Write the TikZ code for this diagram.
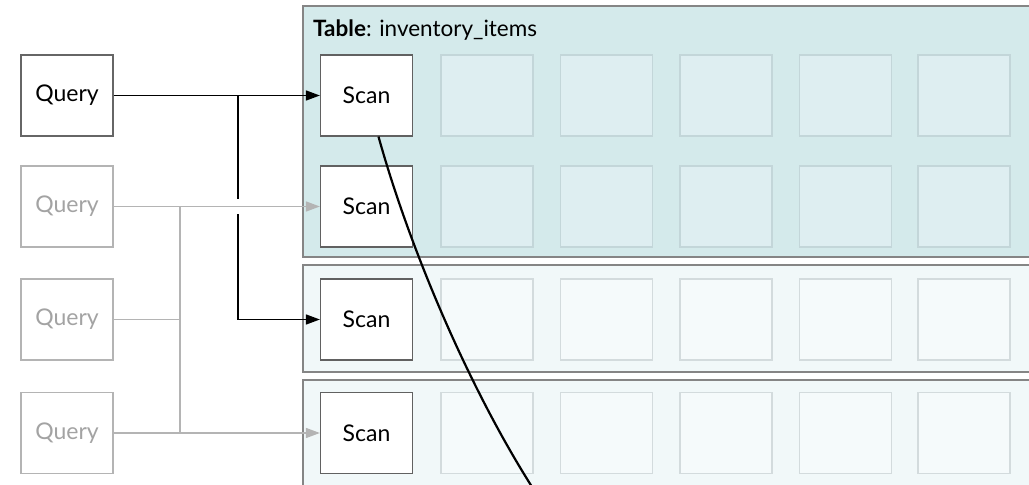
\documentclass[tikz,border=0pt]{standalone}
\usepackage{fontspec}
\setmainfont{Lato}
\usetikzlibrary{arrows.meta}
\definecolor{panelA}{HTML}{D4EAEB}
\definecolor{cellA}{HTML}{DEEEF1}
\definecolor{cellAline}{HTML}{C3D6D9}
\definecolor{panelB}{HTML}{F1F8F9}
\definecolor{cellB}{HTML}{F5FAFB}
\definecolor{cellBline}{HTML}{D3DBDD}
\definecolor{panelline}{HTML}{858585}
\definecolor{dimline}{HTML}{B4B4B4}
\definecolor{dimtext}{HTML}{A3A3A3}
\tikzset{
  box/.style={rectangle, minimum width=92pt, minimum height=81pt, inner sep=0pt, font=\fontsize{23}{27}\selectfont},
  querybox/.style={box, draw=black!60, fill=white, line width=1.2pt},
  dimquery/.style={box, draw=dimline, fill=white, text=dimtext, line width=1.2pt},
  scanbox/.style={box, draw=black!62, fill=white, line width=1.2pt},
  cellone/.style={box, draw=cellAline, fill=cellA, line width=1.1pt},
  celltwo/.style={box, draw=cellBline, fill=cellB, line width=1.1pt},
  panel/.style={draw=panelline, line width=1.2pt},
  link/.style={line width=1.4pt},
  tip/.style={-{Triangle[length=14pt,width=10pt]}},
}
\begin{document}
\begin{tikzpicture}[x=1pt,y=-1pt]
\useasboundingbox (0,0) rectangle (1029,485);
\clip (0,0) rectangle (1029,485);

% table partitions
\draw[panel, fill=panelA] (303,6) rectangle (1045,257);
\draw[panel, fill=panelB] (303,265) rectangle (1045,372);
\draw[panel, fill=panelB] (303,380) rectangle (1045,500);
\node[anchor=base west, font=\fontsize{22.5}{27}\selectfont, inner sep=0pt] (title) at (313,36) {\textbf{Table}: inventory\_items};

% grid of cells
\foreach \r/\y/\st in {1/95.5/cellone, 2/206.5/cellone, 3/319.5/celltwo, 4/433/celltwo}{
  \foreach \c/\x in {1/487, 2/606.5, 3/726, 4/845.5, 5/964}{
    \node[\st] (cell-\r-\c) at (\x,\y) {};
  }
}

% scans
\node[scanbox] (s1) at (366.5,95.5) {Scan};
\node[scanbox] (s2) at (366.5,206.5) {Scan};
\node[scanbox] (s3) at (366.5,319.5) {Scan};
\node[scanbox] (s4) at (366.5,433) {Scan};

% queries
\node[querybox] (q1) at (67,95.5) {Query};
\node[dimquery] (q2) at (67,206.5) {Query};
\node[dimquery] (q3) at (67,319.5) {Query};
\node[dimquery] (q4) at (67,433) {Query};

% junction points
\coordinate (ja) at (238,95.5);
\coordinate (jb) at (238,198.5);
\coordinate (jc) at (238,214);
\coordinate (ga) at (180,206.5);
\coordinate (gb) at (180,319.5);
\coordinate (gc) at (180,433);

% dimmed fan-out
\draw[link, dimline, tip] (q2.east) -- (s2.west);
\draw[link, dimline, tip] (q4.east) -- (s4.west);
\draw[link, dimline] (q3.east) -- (gb);
\draw[link, dimline] (ga) -- (gc);

% active fan-out
\draw[link, black, tip] (q1.east) -- (s1.west);
\draw[link, black] (ja) -- (jb);
\draw[link, black, tip] (jc) |- (s3.west);

% scan sweep
\coordinate (sweepend) at (534,490);
\draw[line width=2.2pt, black] ([xshift=12pt]s1.south) .. controls (410,250) and (470,390) .. (sweepend);
\end{tikzpicture}
\end{document}
